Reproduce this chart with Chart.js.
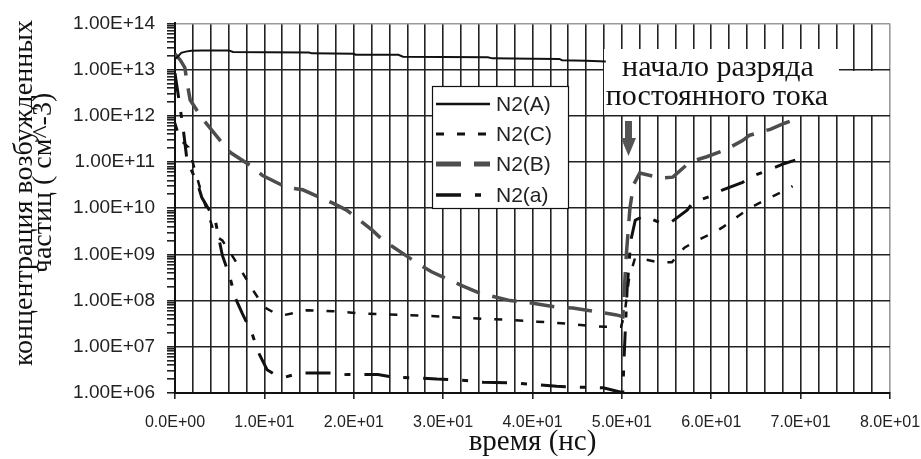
<!DOCTYPE html>
<html>
<head>
<meta charset="utf-8">
<script src="https://cdn.jsdelivr.net/npm/chart.js@4.4.0/dist/chart.umd.min.js"></script>
<style>
  body { margin: 0; background: #fff; }
  canvas { display: block; }
</style>
</head>
<body>
<canvas id="myChart" width="921" height="459"></canvas>
<script>
// series: time (ns) and concentration (cm^-3)
const tA = [0, 0.3, 0.7, 1.2, 1.8, 3, 6, 6.5, 10, 15, 15.3, 20, 20.2, 25, 25.5, 30, 35, 35.5, 40, 43, 43.3, 46, 48.2];
const nA = [1.7e13, 1.9e13, 2.3e13, 2.45e13, 2.55e13, 2.6e13, 2.6e13, 2.4e13, 2.38e13, 2.35e13, 2.25e13, 2.2e13, 2.1e13, 2.1e13, 1.9e13, 1.88e13, 1.85e13, 1.75e13, 1.72e13, 1.7e13, 1.6e13, 1.55e13, 1.5e13];

const tC = [0, 0.6, 1.5, 3, 4.5, 5.3, 6.5, 7.5, 8.7, 10, 11, 12.3, 14.8, 17.7, 20.1, 22.6, 25.2, 27.6, 30.2, 32.4, 35.2, 37.6, 40.5, 42.7, 45.1, 48.1, 49.9,
  50.3, 50.8, 51.5, 54, 55.6, 57, 58.4, 60.2, 61.3, 63, 64.3, 66.3, 68.7, 69.1];
const nC = [7e11, 3e11, 2.1e11, 2e10, 2.5e9, 2e9, 8.7e8, 4.2e8, 1.7e8, 7.2e7, 5.6e7, 4.9e7, 6.2e7, 5.9e7, 5.4e7, 5.1e7, 4.9e7, 4.7e7, 4.5e7, 4.2e7, 4e7, 3.8e7, 3.5e7, 3.3e7, 3e7, 2.7e7, 2.7e7,
  5e7, 3e8, 8.7e8, 6.8e8, 6.8e8, 1.4e9, 2e9, 2.9e9, 3.9e9, 6.7e9, 1e10, 1.6e10, 2.7e10, 3e10];

const tB = [0, 0.6, 1.1, 1.4, 1.7, 3, 5, 6.2, 8.4, 9.8, 12.5, 14.3, 17.6, 19.2, 22.1, 23.3, 27.1, 28.7, 31.9, 34.1, 37.5, 39.7, 42.7, 44.5, 47, 49.4, 50.1,
  50.5, 50.9, 51.3, 52, 54.3, 55.7, 57.6, 59.5, 61.5, 63.5, 64.3, 66.6, 68.2, 69.4];
const nB = [2.2e13, 1.6e13, 1.1e13, 4.6e12, 2.2e12, 9e11, 3e11, 1.6e11, 8.5e10, 5.1e10, 2.8e10, 2.5e10, 1.3e10, 9.1e9, 3.3e9, 2e9, 6.5e8, 4.2e8, 2.2e8, 1.45e8, 1e8, 9e7, 7.2e7, 6.9e7, 5.8e7, 4.9e7, 4.5e7,
  1e9, 1e10, 3.2e10, 5.8e10, 4.5e10, 4.7e10, 1e11, 1.3e11, 1.8e11, 2.9e11, 3.8e11, 5.1e11, 6.9e11, 8.3e11];

const tLa = [0, 0.9, 1.34, 2.57, 3, 4.5, 5.3, 6.15, 6.7, 7.5, 8.6, 9.3, 10.3, 11.2, 12.3, 14, 17.7, 19.2, 22.7, 24.4, 27.7, 29.3, 32, 34.5, 38, 42.7, 44.4, 47.9, 49.8, 50.1,
  50.3, 50.6, 51, 51.5, 52.5, 54.3, 55.4, 57.3, 58, 60.2, 61.3, 63.5, 64.3, 66.6, 68.2, 69.4];
const nLa = [8.3e12, 5.6e11, 1.1e11, 3.2e10, 1.7e10, 5.5e9, 9.5e8, 3.2e8, 1.2e8, 5.4e7, 2e7, 7.8e6, 3.2e6, 2.5e6, 2.2e6, 2.7e6, 2.7e6, 2.5e6, 2.5e6, 2.2e6, 2.1e6, 2e6, 1.9e6, 1.7e6, 1.65e6, 1.4e6, 1.35e6, 1.3e6, 1.05e6, 1.05e6,
  1e7, 2e8, 2e9, 5.5e9, 6.9e9, 4.8e9, 4.8e9, 9.1e9, 1.35e10, 1.9e10, 2.5e10, 3.6e10, 4.7e10, 6.9e10, 9.3e10, 1.1e11];

const labels = ['N2(A)', 'N2(C)', 'N2(B)', 'N2(a)'];
const decades = [1e6, 1e7, 1e8, 1e9, 1e10, 1e11, 1e12, 1e13, 1e14];
const minorSteps = [1, 2, 3, 4, 5, 6, 7, 8, 9];

const yTitle = ['концентрация возбужденных', 'частиц ( см^-3)'];
const xTitle = 'время (нс)';
const note = ['начало разряда', 'постоянного тока'];

const pts = (t, n) => t.map((x, i) => ({x: x, y: n[i]}));
const isDecade = v => Math.abs(Math.log10(v) - Math.round(Math.log10(v))) < 1e-9;
const sci = (v, digits) => {
  const e = v === 0 ? 0 : Math.floor(Math.log10(v) + 1e-9);
  const m = v / Math.pow(10, e);
  return m.toFixed(digits) + 'E+' + String(e).padStart(2, '0');
};

// white boxes, legend, arrow and note that sit inside the plot
const overlay = {
  id: 'overlay',
  beforeDatasetsDraw(chart) {
    const c = chart.ctx;
    c.save();
    c.fillStyle = '#fff';
    c.fillRect(604, 49, 235, 66);
    c.fillRect(839, 71, 50, 44);
    // legend box
    c.fillRect(432, 86, 137, 123);
    c.strokeStyle = '#111';
    c.lineWidth = 1.2;
    c.strokeRect(432.5, 86.5, 136, 122);
    c.restore();
  },
  afterDatasetsDraw(chart) {
    const c = chart.ctx;
    c.save();
    // legend entries
    const rows = [104, 134, 164, 195];
    chart.data.datasets.forEach((ds, i) => {
      c.beginPath();
      c.strokeStyle = ds.borderColor;
      c.lineWidth = ds.legendWidth;
      c.setLineDash(ds.borderDash || []);
      c.moveTo(436, rows[i]);
      c.lineTo(490, rows[i]);
      c.stroke();
      c.setLineDash([]);
      c.fillStyle = '#222';
      c.font = '21px "Liberation Sans", Arial, sans-serif';
      c.textAlign = 'left';
      c.textBaseline = 'middle';
      c.fillText(ds.label, 496, rows[i] + 1);
    });
    // note text
    c.fillStyle = '#111';
    c.font = '30px "Liberation Serif", "Times New Roman", serif';
    c.textAlign = 'center';
    c.textBaseline = 'alphabetic';
    c.fillText(note[0], 718, 76);
    c.fillText(note[1], 717, 105);
    // arrow
    c.fillStyle = '#555';
    c.fillRect(625, 121, 7, 19);
    c.beginPath();
    c.moveTo(621, 138);
    c.lineTo(636, 138);
    c.lineTo(628.5, 156);
    c.closePath();
    c.fill();
    c.restore();
  },
  afterDraw(chart) {
    const c = chart.ctx;
    c.save();
    c.fillStyle = '#111';
    c.font = '28px "Liberation Serif", "Times New Roman", serif';
    c.textAlign = 'center';
    c.textBaseline = 'middle';
    c.translate(25, 193);
    c.rotate(-Math.PI / 2);
    c.fillText(yTitle[0], 0, 0);
    c.fillText(yTitle[1], 10, 19);
    c.restore();
  }
};

const ctx = document.getElementById('myChart').getContext('2d');

const myChart = new Chart(ctx, {
  type: 'line',
  data: {
    datasets: [{
      label: labels[0],
      data: pts(tA, nA),
      borderColor: '#111',
      borderWidth: 2,
      legendWidth: 2.5
    }, {
      label: labels[1],
      data: pts(tC, nC),
      borderColor: '#111',
      borderWidth: 2.5,
      legendWidth: 3,
      borderDash: [8, 13]
    }, {
      label: labels[2],
      data: pts(tB, nB),
      borderColor: '#4d4d4d',
      borderWidth: 3.5,
      legendWidth: 5,
      borderDash: [25, 13]
    }, {
      label: labels[3],
      data: pts(tLa, nLa),
      borderColor: '#111',
      borderWidth: 3,
      legendWidth: 3.5,
      borderDash: [25, 14, 6, 14]
    }]
  },
  options: {
    responsive: false,
    animation: false,
    devicePixelRatio: 1,
    layout: { padding: { left: 0, right: 31, top: 23, bottom: 0 } },
    elements: { point: { radius: 0 }, line: { tension: 0 } },
    plugins: {
      legend: { display: false },
      tooltip: { enabled: false }
    },
    scales: {
      x: {
        type: 'linear',
        min: 0,
        max: 80,
        afterFit: s => {
          s.height = 66;
          s.paddingLeft = 0;
          s.paddingRight = 0;
        },
        ticks: {
          stepSize: 2,
          autoSkip: false,
          maxRotation: 0,
          padding: 14,
          color: '#222',
          font: { family: '"Liberation Sans", Arial, sans-serif', size: 16 },
          callback: v => (v % 10 === 0 ? sci(v, 1) : '')
        },
        grid: {
          lineWidth: 1.6,
          tickLength: 6,
          color: c => (c.tick && c.tick.value === 80 ? '#999' : '#222'),
          tickColor: c => (c.tick && c.tick.value % 10 === 0 ? '#222' : 'rgba(0,0,0,0)')
        },
        border: { color: '#111', width: 2 },
        title: {
          display: true,
          text: xTitle,
          color: '#111',
          padding: { top: 0, bottom: 2 },
          font: { family: '"Liberation Serif", "Times New Roman", serif', size: 29, lineHeight: 1 }
        }
      },
      y: {
        type: 'logarithmic',
        min: 1e6,
        max: 1e14,
        afterFit: s => { s.width = 175; },
        afterBuildTicks: s => {
          const list = [];
          decades.forEach(d => minorSteps.forEach(k => {
            if (k * d <= 1e14) list.push({ value: k * d });
          }));
          s.ticks = list;
        },
        ticks: {
          autoSkip: false,
          padding: 12,
          color: '#222',
          font: { family: '"Liberation Sans", Arial, sans-serif', size: 19 },
          callback: v => (isDecade(v) ? sci(v, 2) : '')
        },
        grid: {
          lineWidth: 1.6,
          tickLength: 8,
          color: c => (c.tick && isDecade(c.tick.value) ? (c.tick.value === 1e14 ? '#999' : '#222') : 'rgba(0,0,0,0)'),
          tickColor: '#222'
        },
        border: { color: '#111', width: 2 }
      }
    }
  },
  plugins: [overlay]
});
</script>
</body>
</html>
